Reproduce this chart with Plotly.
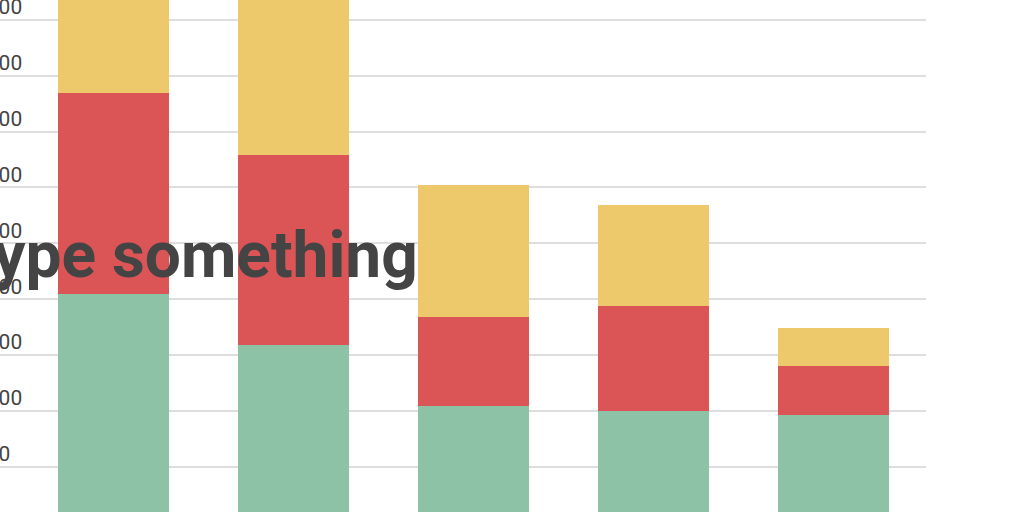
import plotly.graph_objects as go

categories = ["A", "B", "C", "D", "E"]
green_vals = [2050, 1590, 1040, 1000, 960]
red_vals = [1800, 1700, 800, 940, 440]
yellow_vals = [1250, 1800, 1185, 905, 345]
tick_vals = [500, 1000, 1500, 2000, 2500, 3000, 3500, 4000, 4500]
title_text = "Type something"

GREEN = "#8dc2a6"
RED = "#db5456"
YELLOW = "#eec96b"

fig = go.Figure()
for vals, col, name in [(green_vals, GREEN, "Green"), (red_vals, RED, "Red"), (yellow_vals, YELLOW, "Yellow")]:
    fig.add_trace(go.Bar(x=categories, y=vals, name=name, marker=dict(color=col, line=dict(width=0))))

W, H = 1024, 512
plot_w = 926

fig.update_layout(
    width=W, height=H,
    barmode="stack",
    bargap=0.383,
    showlegend=False,
    paper_bgcolor="white",
    plot_bgcolor="white",
    margin=dict(l=0, r=W - plot_w, t=0, b=0, pad=0, autoexpand=False),
    font=dict(family="Roboto", color="#444444"),
    xaxis=dict(
        range=[-0.6306, 4.5139],
        showticklabels=False,
        showgrid=False,
        zeroline=False,
        showline=False,
        ticks="",
        automargin=False,
    ),
    yaxis=dict(
        range=[94, 4679],
        tickvals=tick_vals,
        showgrid=True,
        gridcolor="#dedede",
        gridwidth=2,
        zeroline=False,
        showline=False,
        ticks="",
        automargin=False,
        ticklabelposition="inside",
        ticklabeloverflow="allow",
        ticklabelstandoff=-28,
        ticklabelshift=-13,
        tickfont=dict(family="Roboto", size=21, color="#444444"),
    ),
    annotations=[
        dict(
            text=title_text,
            xref="paper", yref="paper",
            x=420 / plot_w, y=1 - 255 / H,
            xanchor="right", yanchor="middle",
            showarrow=False,
            font=dict(family="Roboto", size=64, color="#444444", weight="bold"),
        )
    ],
)

fig.write_html(
    "out.html",
    config={"displayModeBar": False},
    post_script="document.body.style.margin='0';document.body.style.overflow='hidden';",
)
